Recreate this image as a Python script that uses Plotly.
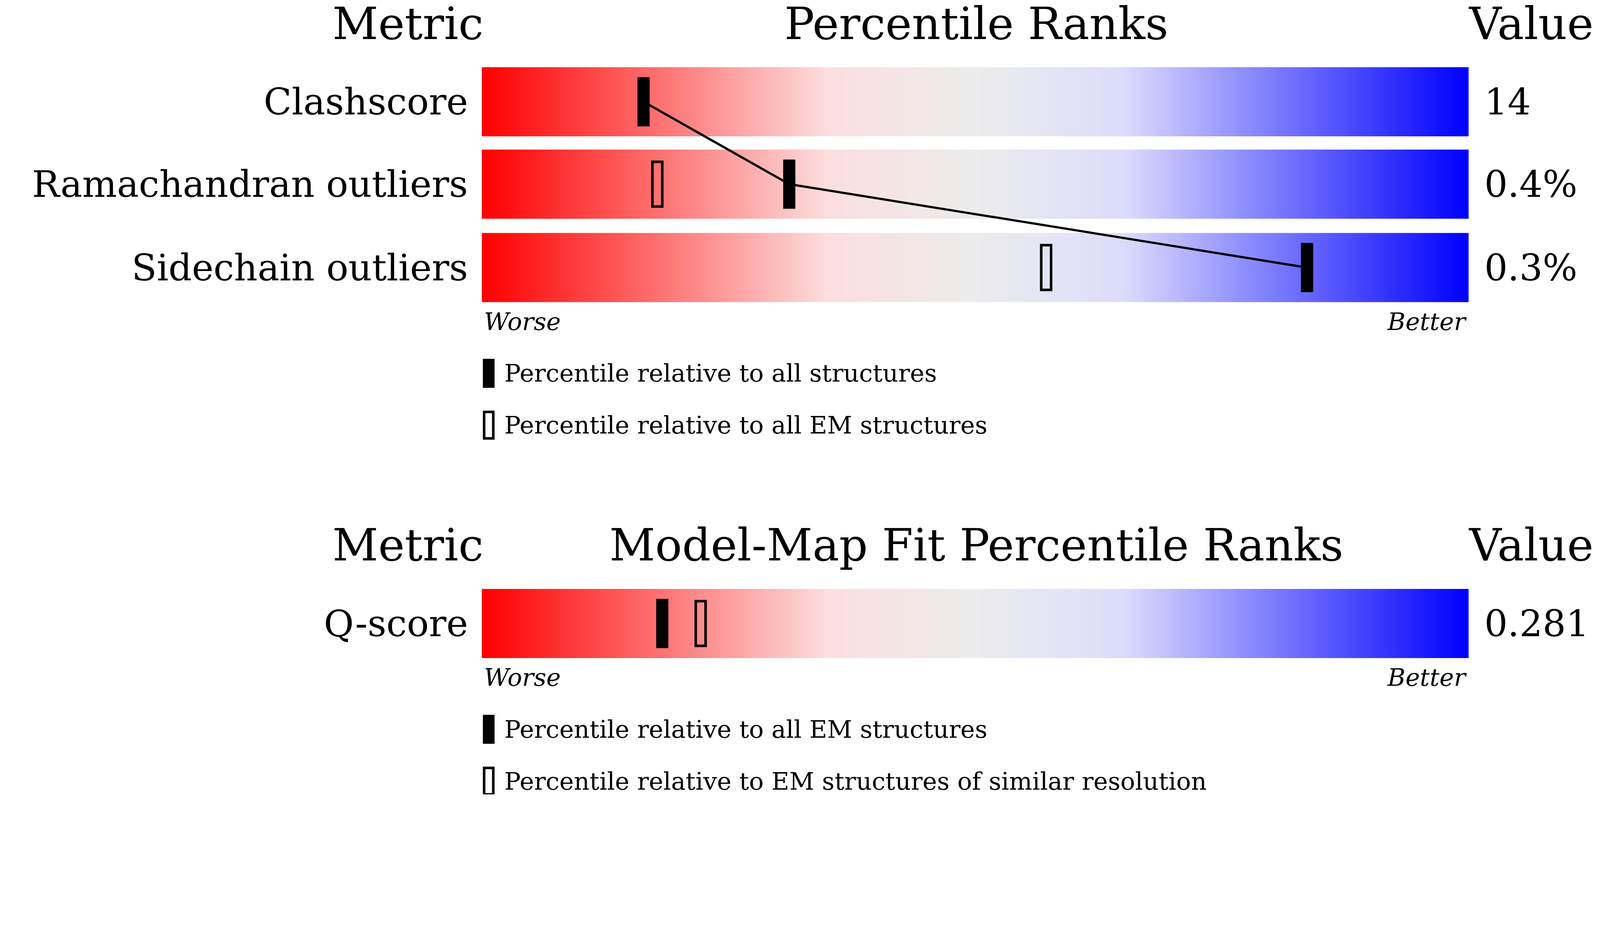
import numpy as np
import plotly.graph_objects as go

# percentile data
metrics = ["Clashscore", "Ramachandran outliers", "Sidechain outliers"]
values = ["14", "0.4%", "0.3%"]
pct_all = [16.3, 31.1, 83.7]
pct_em = [None, 17.7, 57.2]

fit_metrics = ["Q-score"]
fit_values = ["0.281"]
fit_pct_all = [18.2]
fit_pct_sim = [22.1]

# the page is shown with a ~1.19 zoom, so size the figure in css pixels
W, H = 4082, 2026
REF_W = 1568  # layout measured on a 1568 wide view

def px(p):  # reference pixel -> percentile axis units
    return (p - 472) / 968 * 100

SERIF = "DejaVu Serif"
S = W / REF_W
colorscale = [[0, "rgb(255,0,0)"], [0.35, "rgb(252,222,222)"], [0.5, "rgb(236,236,236)"],
              [0.65, "rgb(220,220,252)"], [1, "rgb(0,0,255)"]]

fig = go.Figure()
shapes, ann = [], []

def row(yc, name, val, p_all, p_other):
    grad = np.linspace(0, 100, 400)
    fig.add_trace(go.Heatmap(x=grad, y=[yc - 17, yc + 17], z=[grad, grad], colorscale=colorscale,
                             showscale=False, hoverinfo="skip", zsmooth="best"))
    ann.append(dict(x=px(458), y=yc, text=name, xanchor="right", font=dict(size=36 * S)))
    ann.append(dict(x=px(1456), y=yc, text=val, xanchor="left", font=dict(size=36 * S)))
    if p_other is not None:
        shapes.append(dict(type="rect", x0=p_other - 0.5, x1=p_other + 0.5, y0=yc - 22, y1=yc + 22,
                           line=dict(color="black", width=2.5 * S), fillcolor="rgba(0,0,0,0)"))
    shapes.append(dict(type="rect", x0=p_all - 0.6, x1=p_all + 0.6, y0=yc - 24, y1=yc + 24,
                       line=dict(color="black", width=1), fillcolor="black"))

def header(y, mid):
    ann.append(dict(x=px(398), y=y, text="Metric", font=dict(size=44 * S)))
    ann.append(dict(x=px(957), y=y, text=mid, font=dict(size=44 * S)))
    ann.append(dict(x=px(1440), y=y, text="Value", xanchor="left", font=dict(size=44 * S)))

def footer(y, leg1, leg2):
    ann.append(dict(x=0, y=y, text="<i>Worse</i>", xanchor="left", font=dict(size=24 * S)))
    ann.append(dict(x=100, y=y, text="<i>Better</i>", xanchor="right", font=dict(size=24 * S)))
    for k, (t, filled) in enumerate([(leg1, True), (leg2, False)]):
        yc = y + 51 + 51 * k
        shapes.append(dict(type="rect", x0=px(473), x1=px(482), y0=yc - 13, y1=yc + 13,
                           fillcolor="black" if filled else "rgba(0,0,0,0)",
                           line=dict(color="black", width=2.5 * S)))
        ann.append(dict(x=px(492), y=yc, text=t, xanchor="left", font=dict(size=24 * S)))

header(20, "Percentile Ranks")
row_y = [97, 178, 260]
fig.add_trace(go.Scatter(x=pct_all, y=row_y, mode="lines", line=dict(color="black", width=2.2 * S),
                         hoverinfo="skip", showlegend=False))
for yc, n, v, a, e in zip(row_y, metrics, values, pct_all, pct_em):
    row(yc, n, v, a, e)
footer(313, "Percentile relative to all structures", "Percentile relative to all EM structures")

header(533, "Model-Map Fit Percentile Ranks")
for yc, n, v, a, e in zip([610], fit_metrics, fit_values, fit_pct_all, fit_pct_sim):
    row(yc, n, v, a, e)
footer(663, "Percentile relative to all EM structures",
       "Percentile relative to EM structures of similar resolution")

for a in ann:
    a.update(xref="x", yref="y", showarrow=False, yanchor="middle")
    a["font"].update(family=SERIF, color="black")
for s in shapes:
    s.update(xref="x", yref="y", layer="above")

fig.update_layout(width=W, height=H, margin=dict(l=0, r=0, t=0, b=0),
                  plot_bgcolor="white", paper_bgcolor="white", showlegend=False,
                  annotations=ann, shapes=shapes,
                  xaxis=dict(range=[px(0), px(REF_W)], visible=False, fixedrange=True),
                  yaxis=dict(range=[778, 0], visible=False, fixedrange=True))
fig.write_html("out.html")
